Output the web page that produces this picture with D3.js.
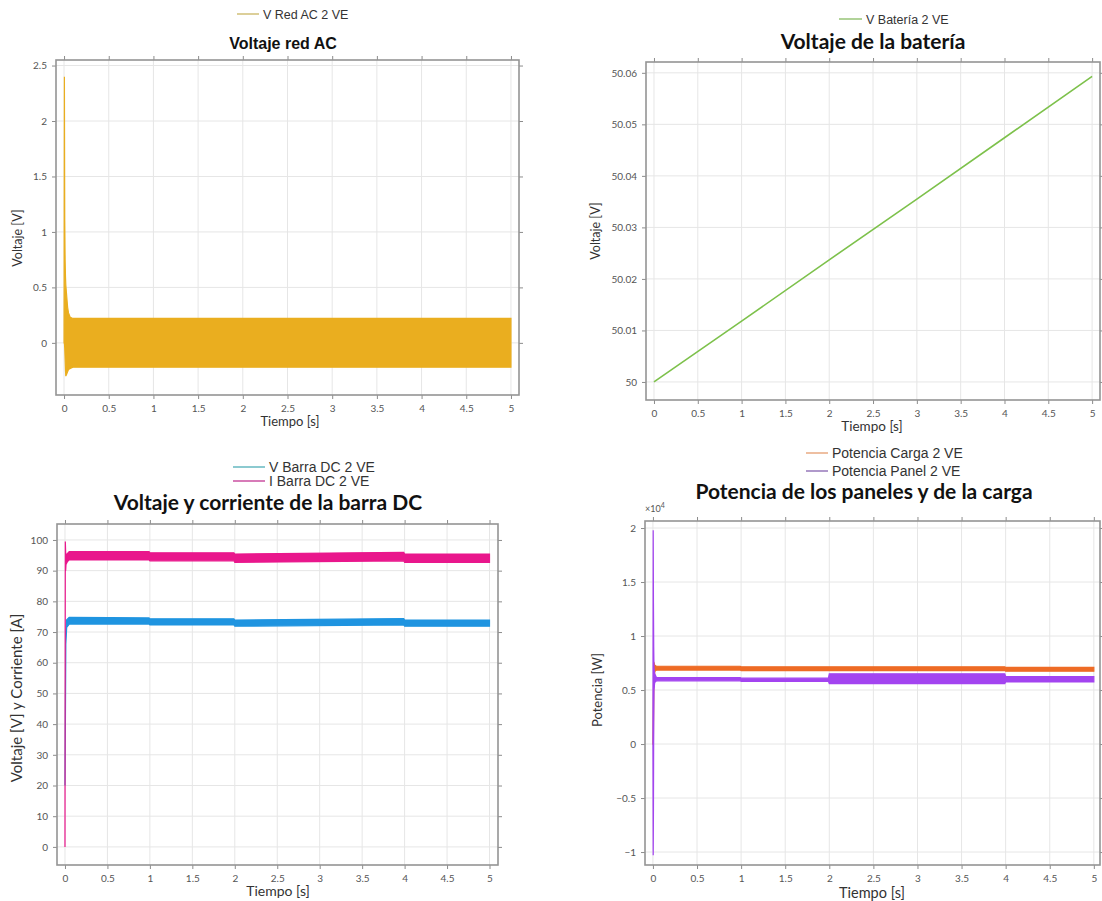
<!DOCTYPE html>
<html>
<head>
<meta charset="utf-8">
<script src="https://cdn.jsdelivr.net/npm/d3@7"></script>
<style>
    body { margin: 0; background: #fff; }
    svg text { font-family: Lato, "Open Sans", sans-serif; }
    .grid line { stroke: #e6e6e6; stroke-width: 1; }
    .axis .tick line { stroke: #8c8c8c; }
    .axis .tick text { font-size: 10px; fill: #555; }
    .frame { fill: none; stroke: #949494; stroke-width: 1.6; }
    .legend-text { font-family: "Liberation Sans Narrow", "Liberation Sans", Arial, sans-serif; font-size: 14px; fill: #333; }
    .title { font-weight: bold; font-size: 21px; fill: #111; }
    .axis-label { font-size: 14px; fill: #333; }
</style>
</head>
<body>
<svg id="chart" width="1102" height="901"></svg>
<script>

// Tick values shared by the four panels
const timeTicks = [0, 0.5, 1, 1.5, 2, 2.5, 3, 3.5, 4, 4.5, 5];
const acTicks = [0, 0.5, 1, 1.5, 2, 2.5];
const batTicks = [50, 50.01, 50.02, 50.03, 50.04, 50.05, 50.06];
const dcTicks = [0, 10, 20, 30, 40, 50, 60, 70, 80, 90, 100];
const powTicks = [-10000, -5000, 0, 5000, 10000, 15000, 20000];

// Voltaje red AC (envelope of the oscillation)
const tAC = [0, 0.004, 0.008, 0.012, 0.016, 0.02, 0.03, 0.04, 0.05, 0.07, 0.1, 5];
const acMax = [0, 2.4, 1.1, 0.75, 0.6, 0.52, 0.42, 0.32, 0.27, 0.23, 0.22, 0.22];
const acMin = [0, 0, -0.05, -0.15, -0.25, -0.3, -0.28, -0.26, -0.24, -0.23, -0.22, -0.22];

// Voltaje de la batería
const tBat = [0, 1, 2, 3, 4, 5];
const vBat = [50.0, 50.0118, 50.0237, 50.0355, 50.0474, 50.0593];

// Barra DC: voltage and current envelopes
const tBarraV = [0, 0.005, 0.01, 0.02, 0.05, 0.99, 1.0, 1.99, 2.0, 3.99, 4.0, 5];
const vBarraMax = [20, 45, 70, 74, 74.8, 74.6, 74.3, 74.3, 73.9, 74.4, 73.9, 73.9];
const vBarraMin = [20, 40, 66, 71.5, 72.6, 72.6, 72.3, 72.3, 71.9, 72.3, 71.9, 71.9];
const tBarraI = [0, 0.004, 0.008, 0.012, 0.03, 0.05, 0.99, 1.0, 1.99, 2.0, 3.99, 4.0, 5];
const iBarraMax = [0, 99.5, 96, 95, 95.6, 96.2, 96.2, 95.8, 95.8, 95.4, 96.0, 95.4, 95.4];
const iBarraMin = [0, 99.5, 90, 92, 93, 93.5, 93.5, 93.2, 93.2, 92.7, 93.2, 92.7, 92.7];

// Potencia [W]: load and panels envelopes
const tCarga = [0, 0.005, 0.01, 0.02, 0.04, 0.99, 1.0, 3.99, 4.0, 5];
const pCargaMax = [0, 4000, 7600, 7300, 7200, 7200, 7150, 7150, 7100, 7100];
const pCargaMin = [0, 0, 5000, 6700, 6850, 6850, 6800, 6800, 6750, 6750];
const tPanel = [0, 0.003, 0.006, 0.009, 0.012, 0.02, 0.04, 0.99, 1.0, 1.99, 2.0, 3.99, 4.0, 5];
const pPanelMax = [0, 19800, 13000, 9000, 7000, 6500, 6150, 6150, 6100, 6100, 6500, 6500, 6250, 6250];
const pPanelMin = [0, -10300, -6000, 2000, 5000, 5700, 5850, 5850, 5800, 5800, 5600, 5600, 5750, 5750];


class SignalPanel {

    constructor(_svg, _cfg) {
        this.svg = _svg;
        this.cfg = _cfg;

        this.initVis();
    }

    initVis() {
        let vis = this;
        let c = vis.cfg;

        vis.g = vis.svg.append("g");

        // Scales
        vis.x = d3.scaleLinear().domain(c.xDomain).range([c.left, c.right]);
        vis.y = d3.scaleLinear().domain(c.yDomain).range([c.bottom, c.top]);

        // Grid
        let grid = vis.g.append("g").attr("class", "grid");
        grid.selectAll(".gx").data(timeTicks).enter().append("line")
            .attr("x1", d => vis.x(d)).attr("x2", d => vis.x(d))
            .attr("y1", c.top).attr("y2", c.bottom);
        grid.selectAll(".gy").data(c.yTicks).enter().append("line")
            .attr("x1", c.left).attr("x2", c.right)
            .attr("y1", d => vis.y(d)).attr("y2", d => vis.y(d));

        // Axes, ticks on the four sides
        let xFmt = d3.format("~g");
        vis.g.append("g").attr("class", "axis")
            .attr("transform", "translate(0," + c.bottom + ")")
            .call(d3.axisBottom(vis.x).tickValues(timeTicks).tickSize(4).tickPadding(6).tickFormat(xFmt))
            .call(g => g.select(".domain").remove());
        vis.g.append("g").attr("class", "axis")
            .attr("transform", "translate(0," + c.top + ")")
            .call(d3.axisTop(vis.x).tickValues(timeTicks).tickSize(4).tickFormat(""))
            .call(g => g.select(".domain").remove());
        vis.g.append("g").attr("class", "axis")
            .attr("transform", "translate(" + c.left + ",0)")
            .call(d3.axisLeft(vis.y).tickValues(c.yTicks).tickSize(4).tickPadding(5).tickFormat(c.yFormat))
            .call(g => g.select(".domain").remove());
        vis.g.append("g").attr("class", "axis")
            .attr("transform", "translate(" + c.right + ",0)")
            .call(d3.axisRight(vis.y).tickValues(c.yTicks).tickSize(4).tickFormat(""))
            .call(g => g.select(".domain").remove());

        // Frame
        vis.g.append("rect").attr("class", "frame")
            .attr("x", c.left).attr("y", c.top)
            .attr("width", c.right - c.left).attr("height", c.bottom - c.top);

        // Series
        let clipId = "clip-" + c.id;
        vis.g.append("clipPath").attr("id", clipId).append("rect")
            .attr("x", c.left).attr("y", c.top)
            .attr("width", c.right - c.left).attr("height", c.bottom - c.top);
        vis.plot = vis.g.append("g").attr("clip-path", "url(#" + clipId + ")");

        c.series.forEach(s => {
            if (s.min) {
                let area = d3.area()
                    .x(i => vis.x(s.t[i]))
                    .y0(i => vis.y(s.min[i]))
                    .y1(i => vis.y(s.max[i]));
                vis.plot.append("path")
                    .attr("d", area(d3.range(s.t.length)))
                    .attr("fill", s.color)
                    .attr("stroke", s.color)
                    .attr("stroke-width", 1.2);
            } else {
                let line = d3.line()
                    .x(i => vis.x(s.t[i]))
                    .y(i => vis.y(s.max[i]));
                vis.plot.append("path")
                    .attr("d", line(d3.range(s.t.length)))
                    .attr("fill", "none")
                    .attr("stroke", s.color)
                    .attr("stroke-width", 1.6);
            }
        });

        // Legend
        c.series.forEach((s, i) => {
            let ly = c.legendY + i * c.legendStep;
            vis.g.append("line")
                .attr("x1", c.legendX).attr("x2", c.legendX + c.legendLen)
                .attr("y1", ly).attr("y2", ly)
                .attr("stroke", s.legendColor).attr("stroke-width", 1.8);
            vis.g.append("text").attr("class", "legend-text")
                .attr("x", c.legendX + c.legendLen + 4).attr("y", ly + 5)
                .style("font-size", c.legendSize)
                .text(s.label);
        });

        // Title and axis labels
        vis.g.append("text").attr("class", "title")
            .attr("x", c.titleX).attr("y", c.titleY)
            .attr("text-anchor", "middle")
            .style("font-family", c.titleFont || null)
            .style("font-size", c.titleSize || null)
            .text(c.title);

        vis.g.append("text").attr("class", "axis-label")
            .attr("x", c.xLabelX).attr("y", c.bottom + c.xLabelDy)
            .attr("text-anchor", "middle")
            .style("font-size", c.xLabelSize)
            .text("Tiempo [s]");

        vis.g.append("text").attr("class", "axis-label")
            .attr("transform", "translate(" + c.yLabelX + "," + c.yLabelY + ") rotate(-90)")
            .attr("text-anchor", "middle")
            .style("font-size", c.yLabelSize)
            .text(c.yLabel);

        if (c.exponent) {
            let ex = vis.g.append("text")
                .attr("x", c.left).attr("y", c.top - 9)
                .attr("font-size", 9).attr("fill", "#555")
                .text("\u00d710");
            ex.append("tspan").attr("dy", -4).attr("font-size", 7).text(c.exponent);
        }
    }
}

let svg = d3.select("#chart");

new SignalPanel(svg, {
    id: "ac",
    left: 56, right: 519, top: 60, bottom: 395,
    xDomain: [-0.09, 5.09], yDomain: [-0.47, 2.55],
    yTicks: acTicks, yFormat: d3.format("~g"),
    title: "Voltaje red AC", titleX: 283, titleY: 49,
    titleFont: "'Liberation Sans', Arial, sans-serif", titleSize: "16px",
    xLabelX: 290, xLabelSize: "13px", xLabelDy: 31,
    yLabel: "Voltaje [V]", yLabelX: 22, yLabelY: 238, yLabelSize: "12.5px",
    legendX: 237, legendY: 14, legendStep: 14, legendLen: 22, legendSize: "12.5px",
    series: [
        { label: "V Red AC 2 VE", t: tAC, max: acMax, min: acMin, color: "#EAAE1F", legendColor: "#D8CA8E" }
    ]
});

new SignalPanel(svg, {
    id: "bat",
    left: 646, right: 1100, top: 62, bottom: 400,
    xDomain: [-0.091, 5.09], yDomain: [49.9965, 50.0621],
    yTicks: batTicks, yFormat: d3.format("~g"),
    title: "Voltaje de la batería", titleX: 873, titleY: 49,
    xLabelX: 872, xLabelSize: "13.5px", xLabelDy: 31,
    yLabel: "Voltaje [V]", yLabelX: 600, yLabelY: 231, yLabelSize: "12.5px",
    legendX: 839, legendY: 19, legendStep: 14, legendLen: 23, legendSize: "12.5px",
    series: [
        { label: "V Batería 2 VE", t: tBat, max: vBat, color: "#7DC14B", legendColor: "#A9CF8E" }
    ]
});

new SignalPanel(svg, {
    id: "dc",
    left: 57, right: 498, top: 524, bottom: 865,
    xDomain: [-0.094, 5.1], yDomain: [-5.9, 105.2],
    yTicks: dcTicks, yFormat: d3.format("~g"),
    title: "Voltaje y corriente de la barra DC", titleX: 268, titleY: 510,
    xLabelX: 278, xLabelSize: "14px", xLabelDy: 31,
    yLabel: "Voltaje [V] y Corriente [A]", yLabelX: 22, yLabelY: 698, yLabelSize: "15px",
    legendX: 233, legendY: 467, legendStep: 14, legendLen: 32, legendSize: "14px",
    series: [
        { label: "V Barra DC 2 VE", t: tBarraV, max: vBarraMax, min: vBarraMin, color: "#1F94E0", legendColor: "#7FC4CB" },
        { label: "I Barra DC 2 VE", t: tBarraI, max: iBarraMax, min: iBarraMin, color: "#E9178C", legendColor: "#D36DB0" }
    ]
});

new SignalPanel(svg, {
    id: "pow",
    left: 645, right: 1100, top: 521, bottom: 865,
    xDomain: [-0.09, 5.07], yDomain: [-11200, 20650],
    yTicks: powTicks, yFormat: d => d3.format("~g")(d / 10000),
    exponent: "4",
    title: "Potencia de los paneles y de la carga", titleX: 864, titleY: 499,
    xLabelX: 872, xLabelSize: "14.5px", xLabelDy: 33,
    yLabel: "Potencia [W]", yLabelX: 602, yLabelY: 690, yLabelSize: "13px",
    legendX: 806, legendY: 453, legendStep: 18, legendLen: 22, legendSize: "14px",
    series: [
        { label: "Potencia Carga 2 VE", t: tCarga, max: pCargaMax, min: pCargaMin, color: "#EE6B25", legendColor: "#EDB897" },
        { label: "Potencia Panel 2 VE", t: tPanel, max: pPanelMax, min: pPanelMin, color: "#A344F0", legendColor: "#A88EC6" }
    ]
});

</script>
</body>
</html>
